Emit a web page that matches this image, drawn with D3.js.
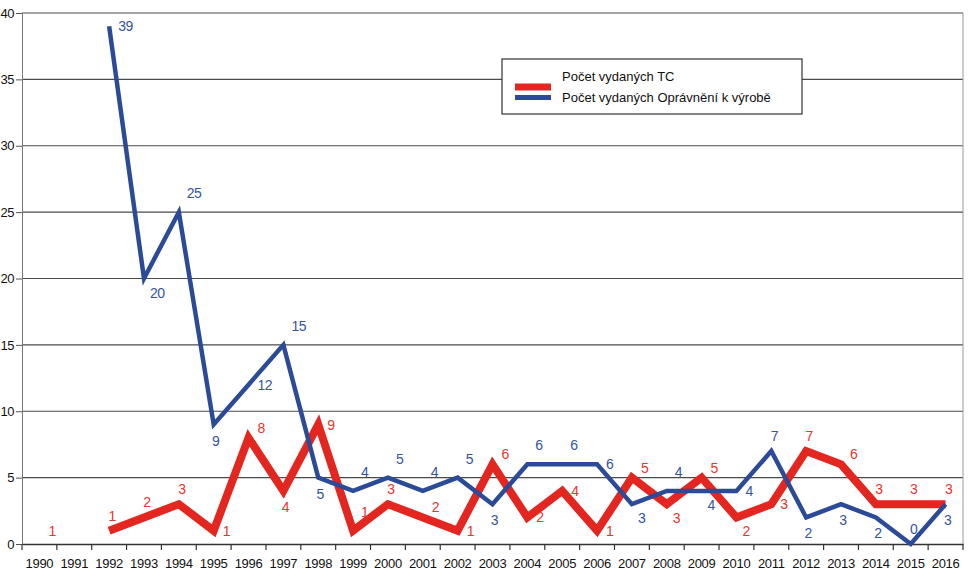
<!DOCTYPE html>
<html>
<head>
<meta charset="utf-8">
<script src="https://cdn.jsdelivr.net/npm/d3@7"></script>
<style>
  body { margin: 0; background: #fff; }
  svg { display: block; }
</style>
</head>
<body>
<div id="chart"></div>
<script>
// years on the category axis
const years = d3.range(1990, 2017).map(String);

// Počet vydaných TC (1991 has no value)
const tcValues = [1, null, 1, 2, 3, 1, 8, 4, 9, 1, 3, 2, 1, 6, 2, 4, 1, 5, 3, 5, 2, 3, 7, 6, 3, 3, 3];
// Počet vydaných Oprávnění k výrobě (starts in 1992)
const opValues = [null, null, 39, 20, 25, 9, 12, 15, 5, 4, 5, 4, 5, 3, 6, 6, 6, 3, 4, 4, 4, 7, 2, 3, 2, 0, 3];

// where each value label sits relative to its point
const tcLabelPos = ["r", null, "a", "a", "a", "r", "ar", "b", "r", "AR", "a", "ar", "r", "ar", "r", "r", "r", "ar", "br", "ar", "br", "r", "a", "ar", "a", "a", "a"];
const opLabelPos = [null, null, "r", "br", "AR", "b", "r", "AR", "b", "AR", "AR", "AR", "AR", "b", "AR", "AR", "r", "br", "AR", "br", "r", "a", "b", "b", "b", "a", "b"];

const yTicks = [0, 5, 10, 15, 20, 25, 30, 35, 40];
const seriesNames = ["Počet vydaných TC", "Počet vydaných Oprávnění k výrobě"];

const width = 971, height = 574;
const margin = {top: 13, right: 8, bottom: 30, left: 22};

const red = "#e3261f", blue = "#2b4a98";
const redText = "#e8352d", blueText = "#3553a3";
const font = "'Liberation Sans', Arial, sans-serif";

const svg = d3.select("#chart").append("svg")
    .attr("width", width)
    .attr("height", height);

const x = d3.scaleBand()
    .domain(years)
    .range([margin.left, width - margin.right])
    .padding(0);

const y = d3.scaleLinear()
    .domain([0, 40])
    .range([height - margin.bottom, margin.top]);

const cx = (i) => x(years[i]) + x.bandwidth() / 2;

// title, mostly cut off at the top edge of the picture
svg.append("text")
    .attr("x", 476)
    .attr("y", -4)
    .attr("text-anchor", "middle")
    .style("font-family", font)
    .style("font-size", "17px")
    .style("font-weight", "bold")
    .style("fill", "#4a86cf")
    .text("Vývoj počtu vydaných typových certifikátů a oprávnění k výrobě v jednotlivých letech");

// horizontal gridlines
svg.append("g")
    .selectAll("line")
    .data(yTicks.filter(d => d > 0))
    .enter()
    .append("line")
    .attr("x1", margin.left)
    .attr("x2", width - margin.right)
    .attr("y1", d => y(d))
    .attr("y2", d => y(d))
    .attr("stroke", "#4a4a4a")
    .attr("stroke-width", 1.2);

// right border of plot area
svg.append("line")
    .attr("x1", width - margin.right)
    .attr("x2", width - margin.right)
    .attr("y1", y(40))
    .attr("y2", y(0))
    .attr("stroke", "#9a9a9a")
    .attr("stroke-width", 1);

// y axis
const yAxis = svg.append("g")
    .attr("transform", `translate(${margin.left},0)`)
    .call(d3.axisLeft(y).tickValues(yTicks).tickSize(6).tickPadding(2));
yAxis.select(".domain").attr("stroke", "#777");
yAxis.selectAll(".tick line").attr("stroke", "#555");
yAxis.selectAll("text")
    .style("font-family", font)
    .style("font-size", "13px")
    .style("letter-spacing", "-0.5px")
    .style("fill", "#111");

// x axis: labels centred in categories, ticks on category borders
const xAxis = svg.append("g")
    .attr("transform", `translate(0,${y(0)})`)
    .call(d3.axisBottom(x).tickSize(0).tickPadding(15));
xAxis.select(".domain").attr("stroke", "#333").attr("stroke-width", 1.3);
xAxis.selectAll("text")
    .style("font-family", font)
    .style("font-size", "13px")
    .style("letter-spacing", "-0.3px")
    .style("fill", "#111");

svg.append("g")
    .selectAll("line")
    .data(years.concat(["end"]))
    .enter()
    .append("line")
    .attr("x1", d => d === "end" ? width - margin.right : x(d))
    .attr("x2", d => d === "end" ? width - margin.right : x(d))
    .attr("y1", y(0))
    .attr("y2", y(0) + 6)
    .attr("stroke", "#333")
    .attr("stroke-width", 1.2);

// lines
const lineGen = d3.line()
    .defined(d => d.v != null)
    .x(d => cx(d.i))
    .y(d => y(d.v));

const tcData = tcValues.map((v, i) => ({v, i}));
const opData = opValues.map((v, i) => ({v, i}));

svg.append("path")
    .datum(tcData)
    .attr("d", lineGen)
    .attr("fill", "none")
    .attr("stroke", red)
    .attr("stroke-width", 8)
    .attr("stroke-linejoin", "miter")
    .attr("stroke-miterlimit", 3);

svg.append("path")
    .datum(opData)
    .attr("d", lineGen)
    .attr("fill", "none")
    .attr("stroke", blue)
    .attr("stroke-width", 4.5)
    .attr("stroke-linejoin", "miter")
    .attr("stroke-miterlimit", 4);

// value labels
const labelOffsets = {
    r:  {dx: 9,  dy: 0,   anchor: "start"},
    ar: {dx: 9,  dy: -10, anchor: "start"},
    AR: {dx: 8,  dy: -19, anchor: "start"},
    br: {dx: 6,  dy: 14,  anchor: "start"},
    a:  {dx: 3,  dy: -15, anchor: "middle"},
    b:  {dx: 2,  dy: 16,  anchor: "middle"}
};

function drawLabels(values, positions, color) {
    const items = values.map((v, i) => ({v, i, p: positions[i]})).filter(d => d.v != null && d.p);
    svg.append("g")
        .selectAll("text")
        .data(items)
        .enter()
        .append("text")
        .attr("x", d => cx(d.i) + labelOffsets[d.p].dx)
        .attr("y", d => y(d.v) + labelOffsets[d.p].dy)
        .attr("text-anchor", d => labelOffsets[d.p].anchor)
        .attr("dominant-baseline", "central")
        .style("font-family", font)
        .style("font-size", "14px")
        .style("letter-spacing", "-0.5px")
        .style("fill", color)
        .text(d => d.v);
}

drawLabels(tcValues, tcLabelPos, redText);
drawLabels(opValues, opLabelPos, blueText);

// legend
const legend = svg.append("g").attr("transform", "translate(502,59)");
legend.append("rect")
    .attr("width", 300)
    .attr("height", 55)
    .attr("fill", "#fff")
    .attr("stroke", "#333")
    .attr("stroke-width", 1.2);

const legendColors = [red, blue];
const legendWidths = [7, 5];
const legendRows = [17, 38];
seriesNames.forEach((name, i) => {
    legend.append("line")
        .attr("x1", 13)
        .attr("x2", 49)
        .attr("y1", 28 + i * 10.5)
        .attr("y2", 28 + i * 10.5)
        .attr("stroke", legendColors[i])
        .attr("stroke-width", legendWidths[i]);
    legend.append("text")
        .attr("x", 60)
        .attr("y", legendRows[i])
        .attr("dominant-baseline", "central")
        .style("font-family", font)
        .style("font-size", "13px")
        .style("fill", "#111")
        .text(name);
});
</script>
</body>
</html>
